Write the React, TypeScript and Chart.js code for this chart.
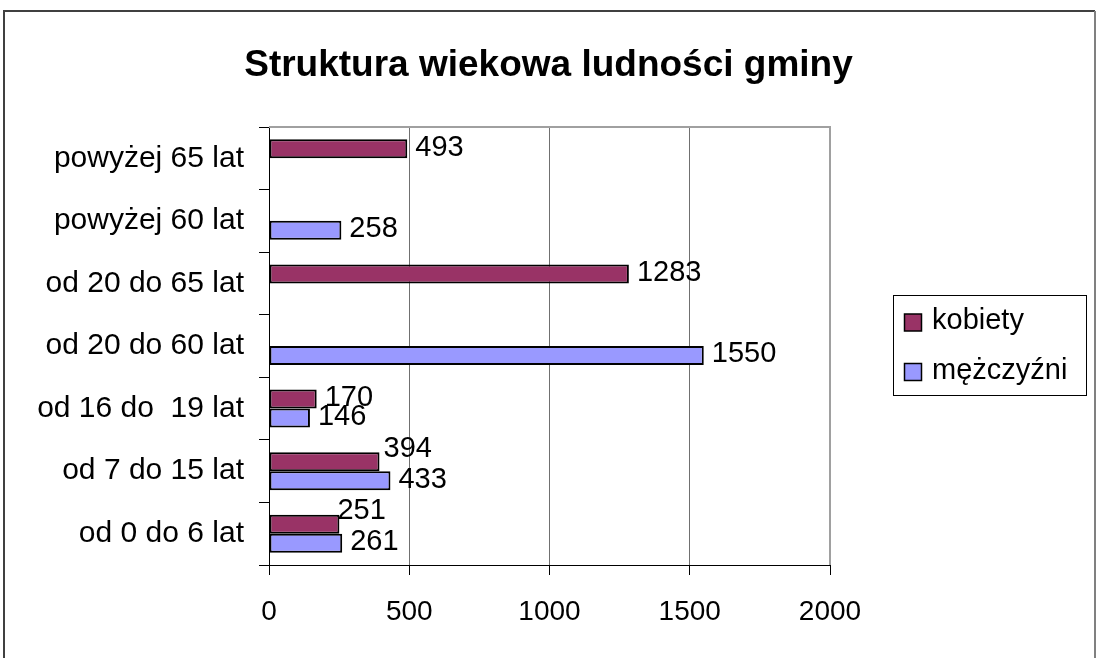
import React, { useEffect, useRef } from "react";
import { Chart, registerables } from "chart.js";

Chart.register(...registerables);

const TITLE = "Struktura wiekowa ludności gminy";
const CATEGORIES = [
  "powyżej 65 lat",
  "powyżej 60 lat",
  "od 20 do 65 lat",
  "od 20 do 60 lat",
  "od 16 do  19 lat",
  "od 7 do 15 lat",
  "od 0 do 6 lat",
];
const SERIES_NAMES = ["kobiety", "mężczyźni"];
const KOBIETY = [493, null, 1283, null, 170, 394, 251];
const MEZCZYZNI = [null, 258, null, 1550, 146, 433, 261];
const X_MIN = 0;
const X_MAX = 2000;
const X_STEP = 500;
const COLORS = ["#993366", "#9999FF"];

const FONT = "'Liberation Sans', Arial, sans-serif";

// label nudges for overlapping value labels (datasetIndex:index -> [dx, dy])
const LABEL_NUDGE: Record<string, [number, number]> = {
  "0:5": [-4, -12],
  "0:6": [-10, -12],
};

const decorPlugin = {
  id: "decor",
  beforeDraw(chart: any) {
    const ctx = chart.ctx;
    ctx.save();
    ctx.fillStyle = "#ffffff";
    ctx.fillRect(0, 0, chart.width, chart.height);
    ctx.restore();
  },
  afterDatasetsDraw(chart: any) {
    const ctx = chart.ctx;
    ctx.save();
    ctx.font = `29px ${FONT}`;
    ctx.fillStyle = "#000";
    ctx.textAlign = "left";
    ctx.textBaseline = "middle";
    chart.data.datasets.forEach((ds: any, di: number) => {
      const meta = chart.getDatasetMeta(di);
      meta.data.forEach((el: any, i: number) => {
        const v = ds.data[i];
        if (v === null || v === undefined) return;
        const nudge = LABEL_NUDGE[`${di}:${i}`] || [0, 0];
        ctx.fillText(String(v), el.x + 8 + nudge[0], el.y - 1 + nudge[1]);
      });
    });
    ctx.restore();
  },
  afterDraw(chart: any) {
    const ctx = chart.ctx;
    const a = chart.chartArea;
    ctx.save();
    // plot area border (top, right)
    ctx.strokeStyle = "#a0a0a0";
    ctx.lineWidth = 2;
    ctx.beginPath();
    ctx.moveTo(a.left, a.top);
    ctx.lineTo(a.right, a.top);
    ctx.lineTo(a.right, a.bottom);
    ctx.stroke();

    // outer frame
    ctx.lineWidth = 2;
    ctx.strokeStyle = "#404040";
    ctx.beginPath();
    ctx.moveTo(4, chart.height);
    ctx.lineTo(4, 11);
    ctx.lineTo(1095, 11);
    ctx.stroke();
    ctx.strokeStyle = "#808080";
    ctx.beginPath();
    ctx.moveTo(1095, 11);
    ctx.lineTo(1095, chart.height);
    ctx.stroke();

    // title
    ctx.fillStyle = "#000";
    ctx.font = `bold 37px ${FONT}`;
    ctx.textAlign = "center";
    ctx.textBaseline = "alphabetic";
    ctx.fillText(TITLE, 548.5, 76);

    // legend
    const lx = 893.5, ly = 295.5, lw = 193, lh = 100;
    ctx.fillStyle = "#fff";
    ctx.fillRect(lx, ly, lw, lh);
    ctx.strokeStyle = "#000";
    ctx.lineWidth = 1;
    ctx.strokeRect(lx, ly, lw, lh);
    const rows = [322.5, 372];
    chart.data.datasets.forEach((ds: any, di: number) => {
      const cy = rows[di];
      ctx.fillStyle = ds.backgroundColor;
      ctx.fillRect(904.5, cy - 8.5, 17, 17);
      ctx.lineWidth = 1.5;
      ctx.strokeStyle = "#000";
      ctx.strokeRect(904.5, cy - 8.5, 17, 17);
      ctx.fillStyle = "#000";
      ctx.font = `29px ${FONT}`;
      ctx.textAlign = "left";
      ctx.textBaseline = "middle";
      ctx.fillText(ds.label, 932, cy - 1.5);
    });
    ctx.restore();
  },
};

export default function App() {
  const ref = useRef<HTMLCanvasElement | null>(null);

  useEffect(() => {
    if (!ref.current) return;
    const chart = new Chart(ref.current, {
      type: "bar",
      data: {
        labels: CATEGORIES,
        datasets: [
          {
            label: SERIES_NAMES[0],
            data: KOBIETY,
            backgroundColor: COLORS[0],
            borderColor: "#000",
            borderWidth: 2,
            borderSkipped: false,
            categoryPercentage: 0.607,
            barPercentage: 1,
          },
          {
            label: SERIES_NAMES[1],
            data: MEZCZYZNI,
            backgroundColor: COLORS[1],
            borderColor: "#000",
            borderWidth: 2,
            borderSkipped: false,
            categoryPercentage: 0.607,
            barPercentage: 1,
          },
        ],
      },
      options: {
        indexAxis: "y",
        animation: false,
        responsive: false,
        devicePixelRatio: 1,
        layout: { padding: { top: 127, right: 266, bottom: 0, left: 0 } },
        plugins: {
          legend: { display: false },
          title: { display: false },
          tooltip: { enabled: false },
        },
        scales: {
          x: {
            type: "linear",
            position: "bottom",
            min: X_MIN,
            max: X_MAX,
            afterFit: (s: any) => {
              s.height = 93;
            },
            ticks: {
              stepSize: X_STEP,
              color: "#000",
              padding: 20,
              font: { family: FONT, size: 28 },
              callback: (v: any) => String(v),
            },
            grid: {
              color: (c: any) => (c.tick && c.tick.value === 0 ? "#000" : "#707070"),
              lineWidth: 1,
              tickColor: "#000",
              tickLength: 10,
            },
            border: { display: true, color: "#000", width: 1 },
          },
          y: {
            type: "category",
            position: "left",
            afterFit: (s: any) => {
              s.width = 269;
            },
            ticks: {
              color: "#000",
              padding: 15,
              autoSkip: false,
              font: { family: FONT, size: 30 },
            },
            grid: {
              drawOnChartArea: false,
              tickColor: "#000",
              tickLength: 10,
              offset: true,
            },
            border: { display: true, color: "#000", width: 1 },
          },
        },
      },
      plugins: [decorPlugin],
    } as any);
    return () => chart.destroy();
  }, []);

  return (
    <div style={{ position: "fixed", left: 0, top: 0, width: 1096, height: 658, background: "#fff" }}>
      <canvas ref={ref} width={1096} height={658} style={{ display: "block" }} />
    </div>
  );
}
